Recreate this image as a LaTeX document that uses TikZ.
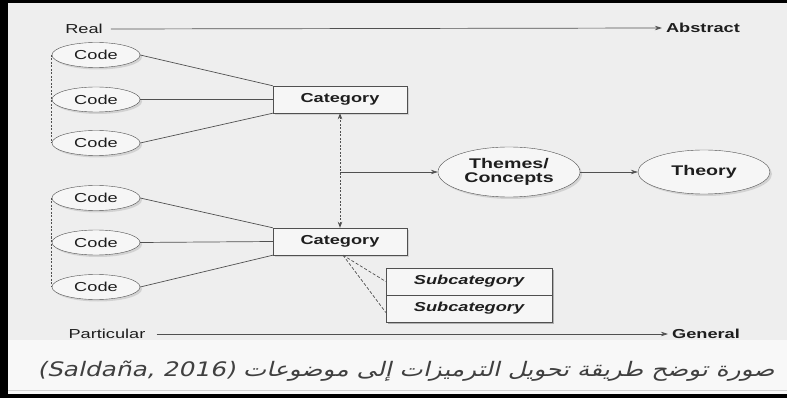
\documentclass[tikz,border=0pt]{standalone}
\usepackage{graphicx}
\usepackage{fontspec}
\setmainfont{Liberation Sans}
\setsansfont{Liberation Sans}
\newfontfamily\arabicfont[Script=Arabic,FakeSlant=0.2]{DejaVu Sans}
\newfontfamily\latcapfont[FakeSlant=0.2]{DejaVu Sans}
\TeXXeTstate=1
\usetikzlibrary{shapes.geometric,arrows.meta,shadows}
\newcommand{\stx}[1]{\scalebox{1.4}[1]{#1}}
\definecolor{inkc}{HTML}{1E1E1E}
\definecolor{linec}{HTML}{505050}
\definecolor{bgc}{HTML}{EEEEEE}
\definecolor{capbg}{HTML}{F8F8F8}
\tikzset{
  txt/.style={text=inkc, font=\fontsize{13}{15}\selectfont, inner sep=4pt},
  shad/.style={drop shadow={opacity=0.25, shadow xshift=2pt, shadow yshift=-2pt}},
  codeshape/.style={ellipse, draw=linec, fill=bgc!50!white, shad, minimum width=88pt, minimum height=25pt, inner sep=0pt, text=inkc, font=\fontsize{13}{15}\selectfont},
  catbox/.style={rectangle, draw=linec, fill=bgc!50!white, shad, minimum width=134pt, minimum height=27pt, inner sep=0pt, text=inkc, font=\fontsize{13}{15}\selectfont\bfseries},
  subbox/.style={rectangle, draw=linec, fill=bgc!50!white, minimum width=166pt, minimum height=27pt, inner sep=0pt, text=inkc, font=\fontsize{13}{15}\selectfont\bfseries\itshape},
  bigell/.style={ellipse, draw=linec, fill=bgc!50!white, shad, inner sep=0pt, text=inkc, align=center, font=\fontsize{14}{15}\selectfont\bfseries},
  conn/.style={draw=linec, line width=0.7pt},
  arr/.style={conn, -{Stealth[length=7pt,width=4.5pt]}},
  dotconn/.style={draw=linec, line width=0.8pt, dash pattern=on 2pt off 1.5pt},
  dashconn/.style={draw=linec, line width=0.7pt, dash pattern=on 3pt off 2pt}
}
\begin{document}
\begin{tikzpicture}[x=1pt,y=-1pt]
\useasboundingbox (0,0) rectangle (787,398);
% backgrounds and frame
\fill[bgc] (0,0) rectangle (787,340);
\fill[capbg] (0,340) rectangle (787,398);
\draw[gray!35, line width=1pt] (0,390) -- (787,390);
\fill[black] (0,0) rectangle (787,3);
\fill[black] (0,0) rectangle (8,398);
\fill[black] (0,394) rectangle (787,398);

% axes
\node[txt] (real) at (84,29) {\stx{Real}};
\node[txt, font=\fontsize{13}{15}\selectfont\bfseries] (abs) at (703,28) {\stx{Abstract}};
\draw[arr] ([xshift=4pt]real.east) -- (abs.west);
\node[txt] (part) at (107,334) {\stx{Particular}};
\node[txt, font=\fontsize{13}{15}\selectfont\bfseries] (gen) at (706,334) {\stx{General}};
\draw[arr] ([xshift=7pt]part.east) -- (gen.west);

% codes
\node[codeshape] (c1) at (96,55) {\stx{Code}};
\node[codeshape] (c2) at (96,99.5) {\stx{Code}};
\node[codeshape] (c3) at (96,143) {\stx{Code}};
\node[codeshape] (c4) at (96,198) {\stx{Code}};
\node[codeshape] (c5) at (96,242.5) {\stx{Code}};
\node[codeshape] (c6) at (96,287) {\stx{Code}};

% categories
\node[catbox] (cat1) at (340,99.5) {\stx{Category}};
\node[catbox] (cat2) at (340,241.5) {\stx{Category}};

% subcategories
\fill[black, opacity=0.25] (388,270) rectangle (554,324);
\node[subbox] (sub1) at (469,281.5) {\stx{Subcategory}};
\node[subbox] (sub2) at (469,308.5) {\stx{Subcategory}};

% themes and theory
\node[bigell, minimum width=142pt, minimum height=50pt] (themes) at (509,172) {\stx{Themes/}\\[-1pt]\stx{Concepts}};
\node[bigell, minimum width=132pt, minimum height=44pt] (theory) at (704,172) {\stx{Theory}};

% connectors codes -> categories
\draw[conn] (c1.east) -- (cat1.north west);
\draw[conn] (c2.east) -- (cat1.west);
\draw[conn] (c3.east) -- (cat1.south west);
\draw[conn] (c4.east) -- (cat2.north west);
\draw[conn] (c5.east) -- (cat2.west);
\draw[conn] (c6.east) -- (cat2.south west);

% dotted code links
\draw[dotconn] (c1.west) -- (c3.west);
\draw[dotconn] (c4.west) -- (c6.west);

% dotted double arrow between categories
\draw[dotconn, {Stealth[length=6pt,width=4.5pt]}-{Stealth[length=6pt,width=4.5pt]}] (cat1.south) -- (cat2.north);

% to themes and theory
\coordinate (mid) at (cat1.south |- themes.west);
\draw[arr] (mid) -- (themes.west);
\draw[arr] (themes.east) -- (theory.west);

% dashed to subcategories
\coordinate (ds) at ([xshift=3pt]cat2.south);
\draw[dashconn] (ds) -- (sub1.west);
\draw[dashconn] (ds) -- ([yshift=-4pt]sub2.west);

% caption
\node[text=inkc!85] (cap) at (406,371) {\scalebox{1.24}[1]{\fontsize{20}{24}\selectfont\arabicfont\beginR صورة توضح طريقة تحويل الترميزات إلى موضوعات \beginL{\latcapfont(Saldaña, 2016)}\endL\endR}};
\end{tikzpicture}
\end{document}
